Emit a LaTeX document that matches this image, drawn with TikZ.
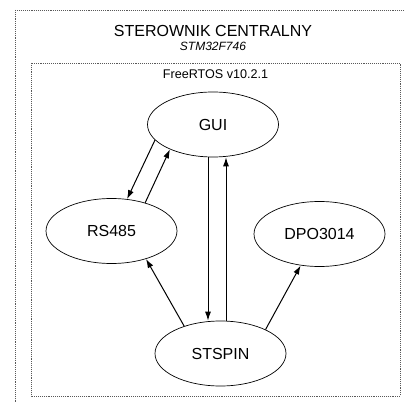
\documentclass[tikz,border=0pt]{standalone}
\usepackage{fontspec}
\setmainfont{Liberation Sans}
\usetikzlibrary{shapes.geometric,arrows.meta}
\begin{document}
\begin{tikzpicture}[x=1pt,y=-1pt,
  boxline/.style={draw=black!65,densely dotted,line width=0.9pt},
  task/.style={ellipse,draw,line width=0.7pt,minimum width=131pt,minimum height=65pt,inner sep=0pt,font=\fontsize{16}{18}\selectfont},
  arr/.style={-{Latex[length=9pt,width=6pt]},line width=1pt}]
\useasboundingbox (0,0) rectangle (404,403);
\begin{scope}
\clip (0,0) rectangle (404,403);
\draw[boxline] (15,10) rectangle (406,410);
\end{scope}
\draw[boxline] (31,63) rectangle (400,396);
\node (title) at (213,31) {\fontsize{16}{18}\selectfont STEROWNIK CENTRALNY};
\node (chip) at (213,46) {\fontsize{12}{14}\selectfont\itshape STM32F746};
\node (rtos) at (215.5,74.5) {\fontsize{12.6}{14}\selectfont FreeRTOS v10.2.1};
\node[task] (gui) at (213,124.5) {GUI};
\node[task] (rs) at (111.5,231) {RS485};
\node[task] (dpo) at (319.5,234) {DPO3014};
\node[task] (st) at (220.5,353.5) {STSPIN};
\draw[arr] (gui.195) -- (rs.64);
\draw[arr] (rs.40) -- (gui.210.7);
\draw[arr] ([xshift=-5pt]gui.south) -- ([xshift=-12.5pt]st.north);
\draw[arr] ([xshift=5.5pt]st.north) -- ([xshift=13pt]gui.south);
\draw[arr] (st.143) -- (rs.321);
\draw[arr] (st.28.3) -- (dpo.239.4);
\end{tikzpicture}
\end{document}
